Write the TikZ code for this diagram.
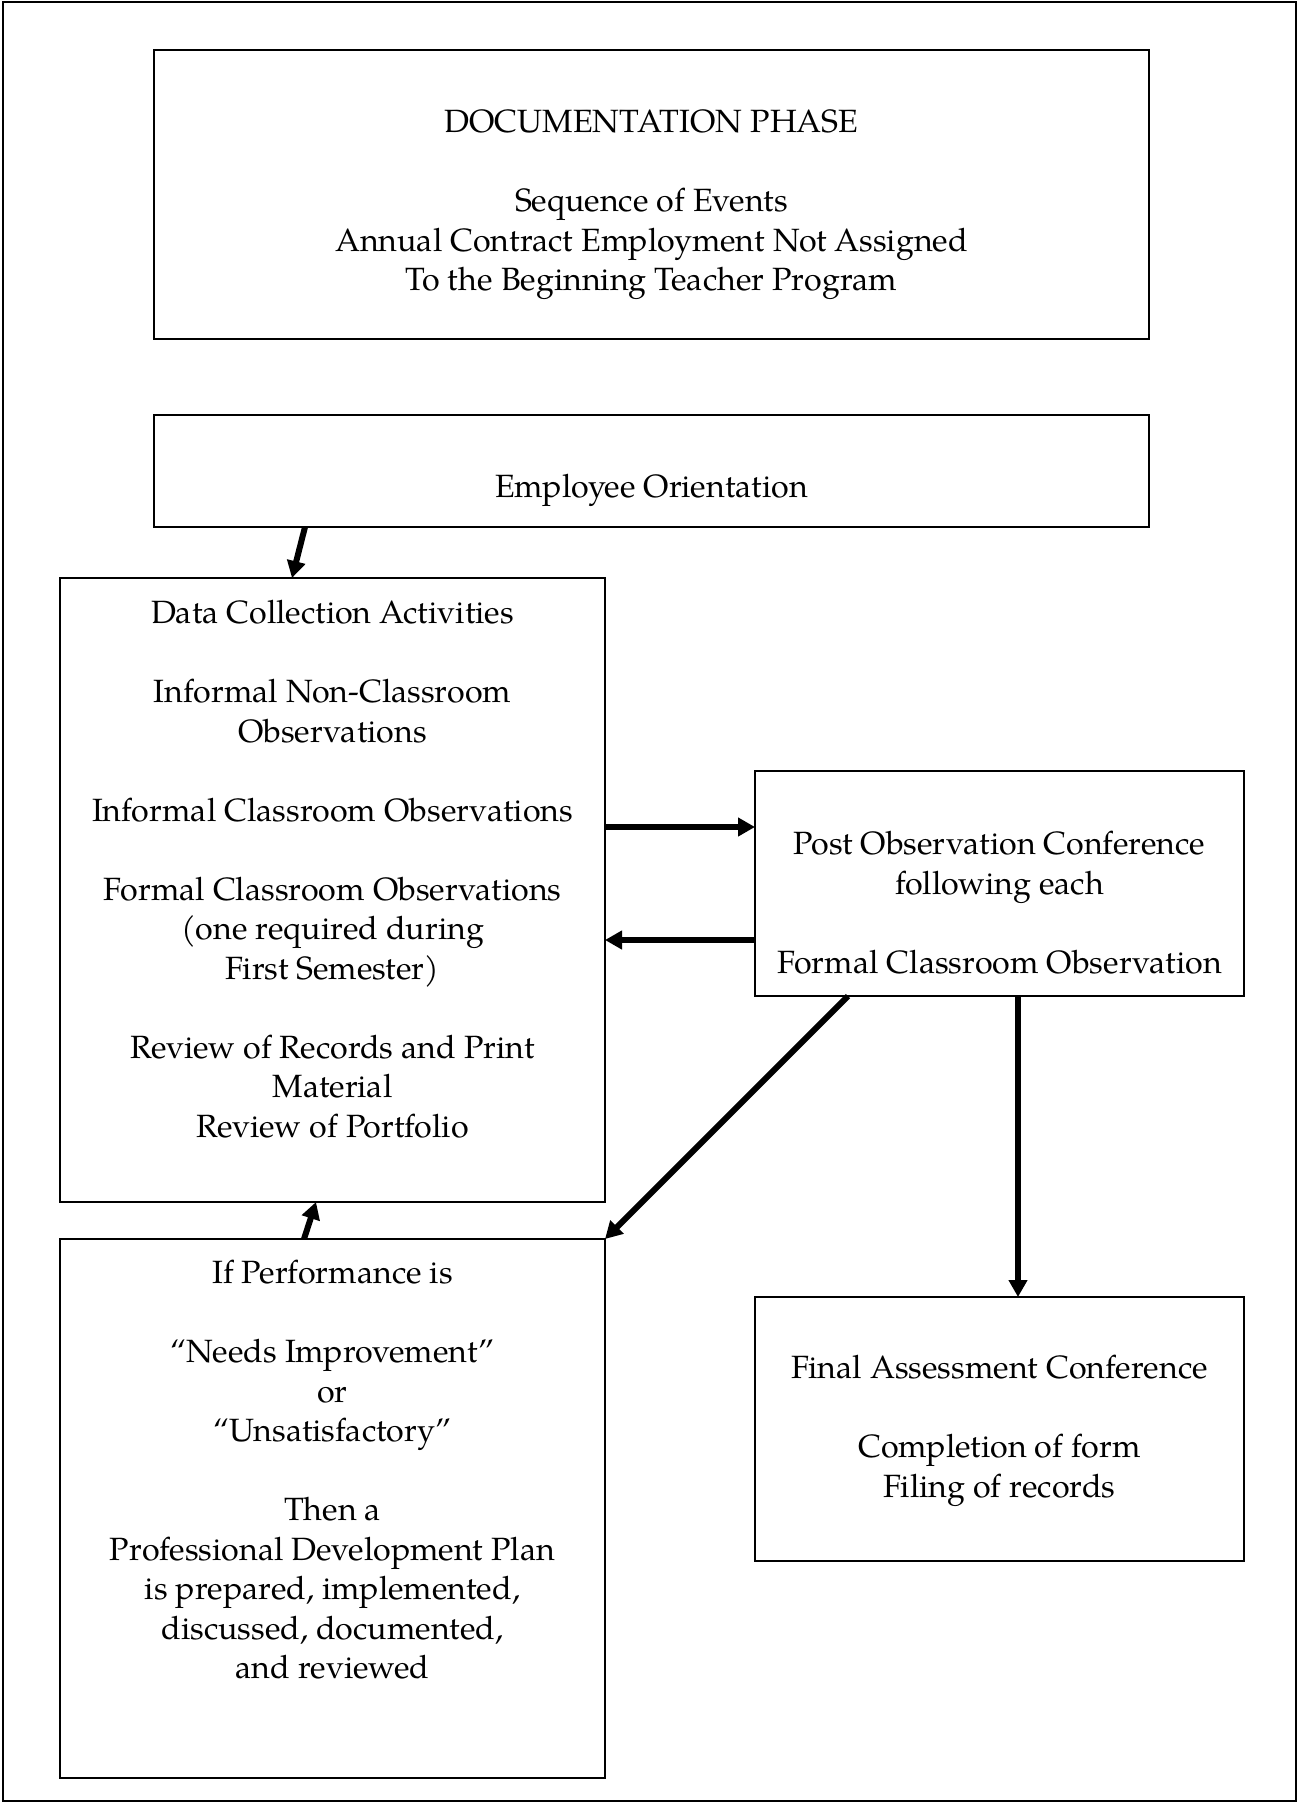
\documentclass[tikz,border=0pt]{standalone}
\usepackage{fontspec}
\setmainfont{TeX Gyre Pagella}
\usetikzlibrary{arrows.meta,calc}
\begin{document}
\begin{tikzpicture}[x=1pt,y=-1pt,
  box/.style={draw,line width=2pt,inner sep=0pt,outer sep=0pt},
  txt/.style={align=center,inner sep=0pt,font=\fontsize{32.2}{39.5}\selectfont},
  arr/.style={line width=6pt,-{Triangle[length=17pt,width=18pt]}}]
\useasboundingbox (0,0) rectangle (1299,1804);
\node[box,minimum width=1293pt,minimum height=1799pt] (outer) at (649.5,901.5) {};
\node[box,minimum width=995pt,minimum height=289pt] (tb) at (651.5,194.5) {};
\node[box,minimum width=995pt,minimum height=112pt] (eo) at (651.5,471) {};
\node[box,minimum width=545pt,minimum height=624pt] (dc) at (332.5,890) {};
\node[box,minimum width=489pt,minimum height=225pt] (po) at (999.5,883.5) {};
\node[box,minimum width=545pt,minimum height=539pt] (ip) at (332.5,1508.5) {};
\node[box,minimum width=489pt,minimum height=264pt] (fa) at (999.5,1429) {};

\node[txt] (tbt) at (651.5,205) {DOCUMENTATION PHASE\\[39.5pt]Sequence of Events\\Annual Contract Employment Not Assigned\\To the Beginning Teacher Program};
\node[txt] (eot) at (651.5,490) {Employee Orientation};
\node[txt] (dct) at (332.5,869) {Data Collection Activities\\[39.5pt]Informal Non-Classroom\\Observations\\[39.5pt]Informal Classroom Observations\\[39.5pt]Formal Classroom Observations\\(one required during\\First Semester)\\[39.5pt]Review of Records and Print\\Material\\Review of Portfolio};
\node[txt] (pot) at (999.5,902.5) {Post Observation Conference\\following each\\[39.5pt]Formal Classroom Observation};
\node[txt] (ipt) at (332.5,1470) {If Performance is\\[39.5pt]“Needs Improvement”\\or\\“Unsatisfactory”\\[39.5pt]Then a\\Professional Development Plan\\is prepared, implemented,\\discussed, documented,\\and reviewed};
\node[txt] (fat) at (999.5,1431) {Final Assessment Conference\\[39.5pt]Completion of form\\Filing of records};

\draw[arr] ($(eo.south west)+(151,0)$) -- ($(dc.north west)+(232,0)$);
\draw[arr] ($(dc.north east)+(0,249)$) -- ($(po.north west)+(0,56)$);
\draw[arr] ($(po.north west)+(0,169)$) -- ($(dc.north east)+(0,362)$);
\draw[arr] ($(po.south west)+(93,0)$) -- (ip.north east);
\draw[arr] ($(po.south west)+(263,0)$) -- ($(fa.north west)+(263,0)$);
\draw[arr] ($(ip.north west)+(244,0)$) -- ($(dc.south west)+(256,0)$);
\end{tikzpicture}
\end{document}
